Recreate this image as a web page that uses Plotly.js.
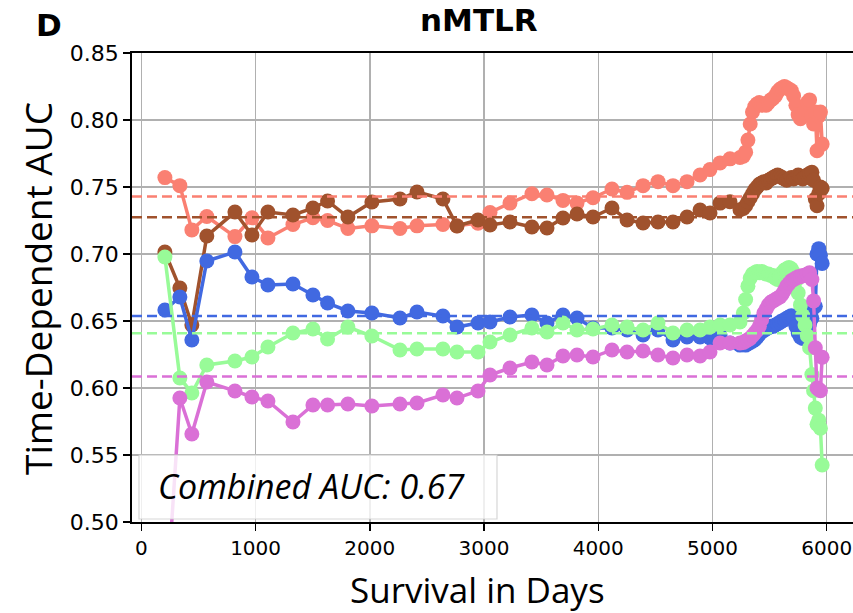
<!DOCTYPE html>
<html>
<head>
<meta charset="utf-8">
<script src="https://cdn.plot.ly/plotly-3.0.1.min.js"></script>
<style>html,body{margin:0;padding:0;background:#fff;}#chart{width:853px;height:613px;}</style>
</head>
<body>
<div id="chart"></div>
<script>
// ---- data ----
const days = [206, 337, 442, 573, 819, 968, 1108, 1327, 1502, 1630, 1808, 2018, 2264, 2413, 2640, 2763, 2947, 3052, 3227, 3419, 3551, 3691, 3814, 3954, 4120, 4252, 4392, 4523, 4654, 4777, 4891, 4978, 5066, 5153, 5241,
  5270, 5290, 5310, 5330, 5350, 5370, 5390, 5410, 5430, 5450, 5470, 5490, 5510, 5530, 5550, 5570, 5590, 5610, 5630, 5650, 5670, 5690, 5710, 5730, 5750, 5770, 5790, 5810, 5830, 5850, 5870, 5885, 5900, 5915, 5930, 5945, 5960];

const aucSalmon = [0.757, 0.751, 0.718, 0.728, 0.713, 0.727, 0.712, 0.722, 0.727, 0.725, 0.719, 0.721, 0.719, 0.721, 0.722, 0.721, 0.723, 0.731, 0.738, 0.745, 0.744, 0.740, 0.738, 0.742, 0.7485, 0.746, 0.751, 0.754, 0.751, 0.754, 0.759, 0.763, 0.768, 0.771, 0.772,
  0.773, 0.776, 0.785, 0.797, 0.806, 0.810, 0.812, 0.813, 0.811, 0.812, 0.811, 0.813, 0.815, 0.816, 0.818, 0.821, 0.823, 0.824, 0.825, 0.824, 0.823, 0.822, 0.818, 0.811, 0.804, 0.801, 0.803, 0.808, 0.813, 0.815, 0.803, 0.797, 0.806, 0.777, 0.803, 0.806, 0.782];

const aucBrown = [0.7015, 0.6746, 0.647, 0.7134, 0.7313, 0.7142, 0.7313, 0.7291, 0.7343, 0.7396, 0.7276, 0.7388, 0.741, 0.7463, 0.741, 0.7209, 0.7254, 0.7216, 0.7239, 0.7201, 0.7194, 0.7269, 0.7299, 0.7276, 0.7343, 0.7254, 0.7231, 0.7239, 0.7239, 0.7276, 0.7328, 0.7306, 0.738, 0.739, 0.733,
  0.734, 0.736, 0.739, 0.742, 0.745, 0.748, 0.750, 0.752, 0.753, 0.754, 0.753, 0.755, 0.756, 0.757, 0.758, 0.759, 0.758, 0.757, 0.756, 0.755, 0.756, 0.757, 0.756, 0.757, 0.759, 0.758, 0.756, 0.757, 0.759, 0.760, 0.761, 0.755, 0.741, 0.736, 0.745, 0.750, 0.749];

const aucBlue = [0.6582, 0.6679, 0.6358, 0.6948, 0.7015, 0.6828, 0.6769, 0.6776, 0.6694, 0.6634, 0.6575, 0.656, 0.6522, 0.6567, 0.6537, 0.6455, 0.6485, 0.6493, 0.653, 0.6545, 0.6485, 0.6545, 0.6522, 0.6448, 0.6448, 0.6433, 0.6396, 0.6433, 0.6358, 0.6381, 0.6381, 0.6373, 0.6396, 0.6336, 0.632,
  0.633, 0.632, 0.633, 0.634, 0.635, 0.636, 0.638, 0.640, 0.642, 0.643, 0.644, 0.645, 0.646, 0.646, 0.647, 0.648, 0.649, 0.650, 0.651, 0.652, 0.653, 0.654, 0.652, 0.646, 0.641, 0.638, 0.637, 0.640, 0.644, 0.648, 0.652, 0.660, 0.661, 0.700, 0.704, 0.699, 0.693];

const aucGreen = [0.6978, 0.6075, 0.5963, 0.6172, 0.6201, 0.6231, 0.6306, 0.641, 0.644, 0.6366, 0.6455, 0.6388, 0.6284, 0.6291, 0.6291, 0.6269, 0.6269, 0.6343, 0.6396, 0.6448, 0.6418, 0.6485, 0.6433, 0.644, 0.647, 0.6455, 0.6433, 0.6485, 0.641, 0.6433, 0.6433, 0.6455, 0.647, 0.647, 0.6493,
  0.656, 0.666, 0.676, 0.682, 0.685, 0.686, 0.687, 0.686, 0.687, 0.686, 0.685, 0.685, 0.684, 0.684, 0.682, 0.681, 0.683, 0.686, 0.688, 0.689, 0.690, 0.689, 0.686, 0.680, 0.671, 0.662, 0.654, 0.647, 0.639, 0.630, 0.610, 0.598, 0.585, 0.573, 0.576, 0.570, 0.5425];

const aucPink = [0.422, 0.5925, 0.5657, 0.6045, 0.5978, 0.5933, 0.5903, 0.5746, 0.5873, 0.5873, 0.5881, 0.5866, 0.5881, 0.5888, 0.5948, 0.5925, 0.5978, 0.6097, 0.6149, 0.6194, 0.6172, 0.6239, 0.6246, 0.6231, 0.6284, 0.6269, 0.6276, 0.6246, 0.6224, 0.6246, 0.6239, 0.6269, 0.6336, 0.6336, 0.6336,
  0.634, 0.635, 0.636, 0.637, 0.639, 0.641, 0.643, 0.646, 0.651, 0.656, 0.659, 0.662, 0.664, 0.665, 0.666, 0.667, 0.668, 0.670, 0.673, 0.676, 0.678, 0.680, 0.681, 0.682, 0.683, 0.683, 0.684, 0.684, 0.685, 0.686, 0.681, 0.665, 0.630, 0.600, 0.599, 0.598, 0.623];

const seriesColors = ['#FA8072', '#A0522D', '#4169E1', '#98FB98', '#DA70D6'];
const seriesValues = [aucSalmon, aucBrown, aucBlue, aucGreen, aucPink];
const meanAUC = [0.743, 0.7274, 0.6537, 0.6408, 0.6085];
const combinedAUC = '0.67';
const xTicks = [0, 1000, 2000, 3000, 4000, 5000, 6000];
const yTicks = [0.50, 0.55, 0.60, 0.65, 0.70, 0.75, 0.80, 0.85];

// ---- traces ----
const traces = seriesValues.map((vals, i) => ({
  type: 'scatter', mode: 'lines+markers', x: days, y: vals,
  line: {color: seriesColors[i], width: 3.5},
  marker: {color: seriesColors[i], size: 15},
  showlegend: false, hoverinfo: 'skip'
}));

const shapes = meanAUC.map((m, i) => ({
  type: 'line', xref: 'paper', yref: 'y', x0: 0, x1: 1, y0: m, y1: m,
  line: {color: seriesColors[i], width: 2.5, dash: '10px,5px'}, layer: 'above'
}));
// Combined AUC box (pixel-based placement)
const L = 132, W = 721, T = 53, H = 469;
const px = v => (v - L) / W, py = v => (T + H - v) / H;
shapes.push({type: 'rect', xref: 'paper', yref: 'paper', x0: px(139), x1: px(497), y0: py(519), y1: py(455),
  fillcolor: 'rgba(255,255,255,0.8)', line: {color: 'rgba(204,204,204,0.8)', width: 1.2}, layer: 'above'});

const annotations = [
  {text: 'nMTLR', xref: 'paper', yref: 'paper', x: px(479), y: py(20), showarrow: false, xanchor: 'center', yanchor: 'middle',
   font: {family: 'DejaVu Sans', size: 31, color: '#000', weight: 'bold'}},
  {text: '<b>D</b>', xref: 'paper', yref: 'paper', x: px(49), y: py(25), showarrow: false, xanchor: 'center', yanchor: 'middle',
   font: {family: 'DejaVu Sans', size: 31, color: '#000'}},
  {text: 'Time-Dependent AUC', xref: 'paper', yref: 'paper', x: px(37), y: py(289), showarrow: false, textangle: -90, xanchor: 'center', yanchor: 'middle',
   font: {family: 'Open Sans', size: 37, color: '#000'}},
  {text: 'Survival in Days', xref: 'paper', yref: 'paper', x: px(477), y: py(589), showarrow: false, xanchor: 'center', yanchor: 'middle',
   font: {family: 'Open Sans', size: 35, color: '#000'}},
  {text: '<i>Combined AUC: ' + combinedAUC + '</i>', xref: 'paper', yref: 'paper', x: px(311), y: py(486), showarrow: false, xanchor: 'center', yanchor: 'middle',
   font: {family: 'Open Sans', size: 34, color: '#000'}}
];

const axisCommon = {
  showgrid: true, gridcolor: '#b0b0b0', gridwidth: 1.4, zeroline: false,
  showline: true, linecolor: '#000', linewidth: 1.8,
  ticks: 'outside', ticklen: 7, tickwidth: 1.5, tickcolor: '#000'
};

const layout = {
  width: 853, height: 613,
  margin: {l: L, r: 0, t: T, b: 613 - T - H, pad: 0},
  paper_bgcolor: '#fff', plot_bgcolor: '#fff',
  xaxis: Object.assign({}, axisCommon, {range: [-82, 6230], tickvals: xTicks, ticktext: xTicks.map(String), mirror: true,
    tickfont: {family: 'DejaVu Sans', size: 20, color: '#000'}}),
  yaxis: Object.assign({}, axisCommon, {range: [0.5, 0.85], tickvals: yTicks, ticktext: yTicks.map(v => v.toFixed(2)),
    tickfont: {family: 'DejaVu Sans', size: 22, color: '#000'}}),
  shapes: shapes, annotations: annotations, showlegend: false
};

Plotly.newPlot('chart', traces, layout, {staticPlot: true, displayModeBar: false});
</script>
</body>
</html>
